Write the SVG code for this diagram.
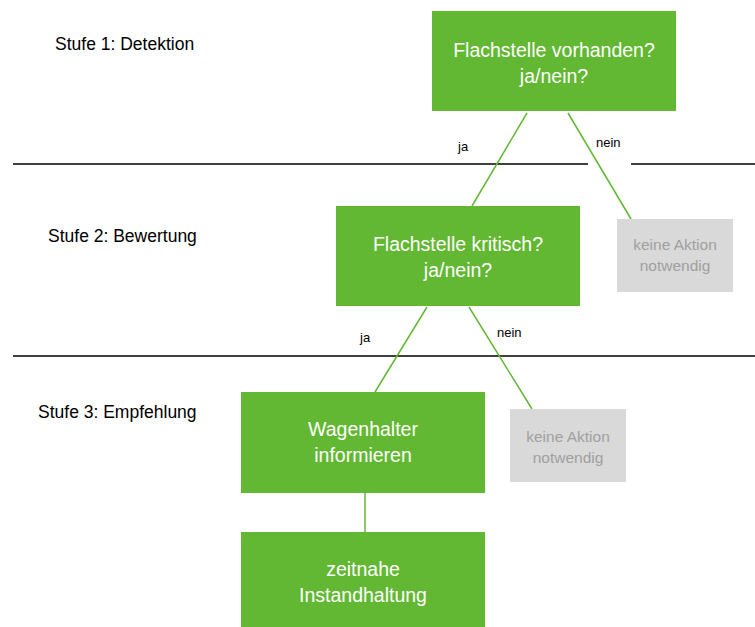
<svg xmlns="http://www.w3.org/2000/svg" width="755" height="627" viewBox="0 0 755 627">
<style>
.g{fill:#62b832}
.gr{fill:#d9d9d9}
.t{font-family:"Liberation Sans",Arial,sans-serif;text-anchor:middle}
.w{fill:#fff;font-size:19.5px}
.gt{fill:#a0a0a0;font-size:15.5px}
.s{font-family:"Liberation Sans",Arial,sans-serif;font-size:17.5px;fill:#000}
.l{font-family:"Liberation Sans",Arial,sans-serif;font-size:13px;fill:#000}
.c{stroke:#62b832;stroke-width:1.5;fill:none}
.h{stroke:#000;stroke-width:1.3}
</style>
<rect width="755" height="627" fill="#fff"/>
<g id="dividers">
<line class="h" x1="13" y1="164" x2="588" y2="164"/>
<line class="h" x1="631" y1="164" x2="755" y2="164"/>
<line class="h" x1="13" y1="356" x2="755" y2="356"/>
</g>
<g id="stages">
<text class="s" x="55" y="50">Stufe 1: Detektion</text>
<text class="s" x="48" y="242">Stufe 2: Bewertung</text>
<text class="s" x="38" y="418">Stufe 3: Empfehlung</text>
</g>
<g id="connectors">
<line class="c" x1="527" y1="113" x2="472" y2="206"/>
<line class="c" x1="568" y1="113" x2="631" y2="219"/>
<line class="c" x1="427" y1="307" x2="375" y2="392"/>
<line class="c" x1="469" y1="307" x2="532" y2="409"/>
<line class="c" x1="365" y1="493" x2="365" y2="532"/>
<text class="l" x="458" y="151">ja</text>
<text class="l" x="596" y="147">nein</text>
<text class="l" x="360" y="342">ja</text>
<text class="l" x="497" y="337">nein</text>
</g>
<g id="n1">
<rect class="g" x="432" y="11" width="244" height="100"/>
<text class="t w" x="554" y="57">Flachstelle vorhanden?</text>
<text class="t w" x="554" y="83">ja/nein?</text>
</g>
<g id="n2">
<rect class="g" x="336" y="206" width="244" height="100"/>
<text class="t w" x="458" y="251">Flachstelle kritisch?</text>
<text class="t w" x="458" y="277">ja/nein?</text>
</g>
<g id="n3">
<rect class="gr" x="617" y="219" width="116" height="73"/>
<text class="t gt" x="675" y="250">keine Aktion</text>
<text class="t gt" x="675" y="271">notwendig</text>
</g>
<g id="n4">
<rect class="g" x="241" y="392" width="244" height="101"/>
<text class="t w" x="363" y="436">Wagenhalter</text>
<text class="t w" x="363" y="462">informieren</text>
</g>
<g id="n5">
<rect class="gr" x="510" y="409" width="116" height="73"/>
<text class="t gt" x="568" y="442">keine Aktion</text>
<text class="t gt" x="568" y="463">notwendig</text>
</g>
<g id="n6">
<rect class="g" x="241" y="532" width="244" height="95"/>
<text class="t w" x="363" y="576">zeitnahe</text>
<text class="t w" x="363" y="602">Instandhaltung</text>
</g>
</svg>
